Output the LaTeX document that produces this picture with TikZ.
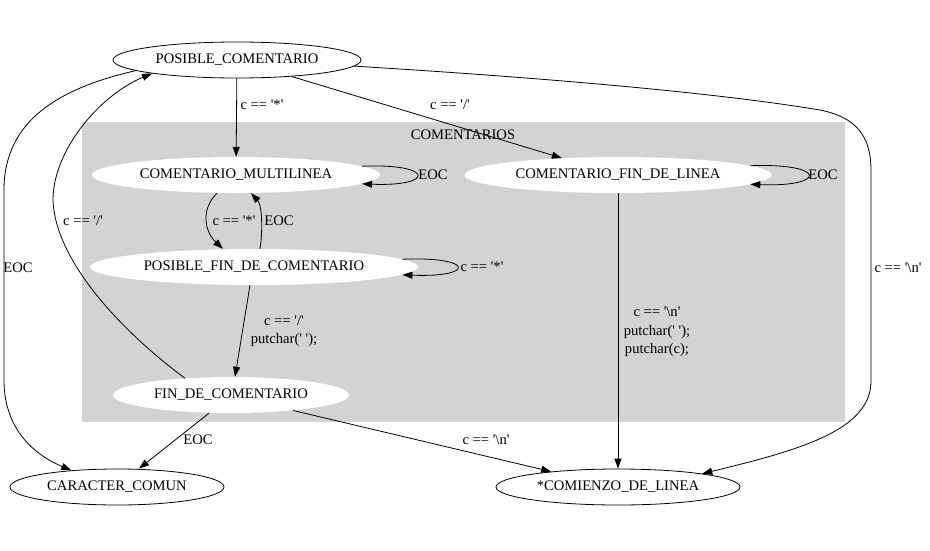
\documentclass[tikz,border=0pt]{standalone}
\usepackage{fontspec}
\setmainfont{Liberation Serif}
\usetikzlibrary{arrows.meta, shapes.geometric}

\definecolor{clustergray}{RGB}{211,211,211}
\newcommand{\q}{\textquotesingle}

\begin{document}
\begin{tikzpicture}[x=1pt, y=-1pt]

\useasboundingbox (0,0) rectangle (930,550);

% styles
\pgfkeys{/edge/.style={draw, line width=0.8pt, -{Triangle[length=10pt, width=7pt]}}} % transitions
\pgfkeys{/state/.style={ellipse, inner sep=0, minimum height=36pt, node font=\fontsize{14.6}{16}\selectfont}} % base style for states
\pgfkeys{/outer/.style={/state, draw, line width=0.8pt}} % states outside the cluster
\pgfkeys{/inner/.style={/state, fill=white}} % states inside the cluster
\pgfkeys{/lbl/.style={inner sep=0, align=center, node font=\fontsize{14.6}{18.5}\selectfont}} % edge labels

% cluster
\fill[clustergray] (82,122) rectangle (845,422);
\node[/lbl] (comentarios) at (463,135) {COMENTARIOS};

% states
\node[/outer, minimum width=248pt] (pc) at (237,60) {POSIBLE\_COMENTARIO};
\node[/outer, minimum width=214pt] (cc) at (117,487) {CARACTER\_COMUN};
\node[/outer, minimum width=244pt] (cdl) at (618,487) {*COMIENZO\_DE\_LINEA};
\node[/inner, minimum width=288pt] (cml) at (236,175) {COMENTARIO\_MULTILINEA};
\node[/inner, minimum width=307pt] (cfl) at (618,175) {COMENTARIO\_FIN\_DE\_LINEA};
\node[/inner, minimum width=328pt] (pfc) at (254,267) {POSIBLE\_FIN\_DE\_COMENTARIO};
\node[/inner, minimum width=236pt] (fdc) at (231,395) {FIN\_DE\_COMENTARIO};

% transitions from POSIBLE_COMENTARIO
\draw[/edge] (pc) -- (cml);
\draw[/edge] (pc) -- (cfl);
\draw[/edge] (pc.-3) .. controls (500,75) and (700,90) .. (820,110)
  .. controls (855,117) and (871,135) .. (871,170) -- (871,380)
  .. controls (872,430) and (800,450) .. (cdl.9);
\draw[/edge] (pc.-174) .. controls (60,88) and (4,120) .. (4,190) -- (4,380)
  .. controls (4,430) and (35,455) .. (cc.160);

% transitions inside the cluster
\draw[/edge] ([xshift=-19pt]cml.south) .. controls (200,210) and (205,232) .. ([xshift=-31pt]pfc.north);
\draw[/edge] ([xshift=6pt]pfc.north) .. controls (263,230) and (262,205) .. ([xshift=15pt]cml.south);
\draw[/edge] ([xshift=-4pt]pfc.south) -- ([xshift=4pt]fdc.north);
\foreach \n/\a/\dx in {cml/4/73, cfl/4/77, pfc/3.5/73} {
\draw[/edge] (\n.\a) .. controls +(\dx,-3) and +(\dx,3) .. (\n.-\a); % self loops
}

% transitions leaving the cluster
\draw[/edge] (fdc.160) .. controls (120,330) and (55,260) .. (53,200)
  .. controls (53,150) and (100,95) .. (pc.-171);
\draw[/edge] ([xshift=-22pt]fdc.south) -- ([xshift=22pt]cc.north);
\draw[/edge] (fdc.-14) -- (cdl.167);
\draw[/edge] (cfl) -- (cdl);

% labels
\node[/lbl] (lpccml) at (262,105) {c == \q*\q};
\node[/lbl] (lpccfl) at (450,105) {c == \q/\q};
\node[/lbl] (lpccdl) at (898,268) {c == \q\textbackslash n\q};
\node[/lbl] (lpccc) at (18,268) {EOC};
\node[/lbl] (lfdcpc) at (83,221) {c == \q/\q};
\node[/lbl] (lcml) at (433,175) {EOC};
\node[/lbl] (lcfl) at (823,175) {EOC};
\node[/lbl] (lpfc) at (482,267) {c == \q*\q};
\node[/lbl] (lcmlpfc) at (234,221) {c == \q*\q};
\node[/lbl] (lpfccml) at (279,221) {EOC};
\node[/lbl] (lpfcfdc) at (284,331) {c == \q/\q\\putchar(\q\ \q);};
\node[/lbl] (lfdccc) at (198,440) {EOC};
\node[/lbl] (lfdccdl) at (486,440) {c == \q\textbackslash n\q};
\node[/lbl] (lcflcdl) at (657,332) {c == \q\textbackslash n\q\\putchar(\q\ \q);\\putchar(c);};

\end{tikzpicture}
\end{document}
